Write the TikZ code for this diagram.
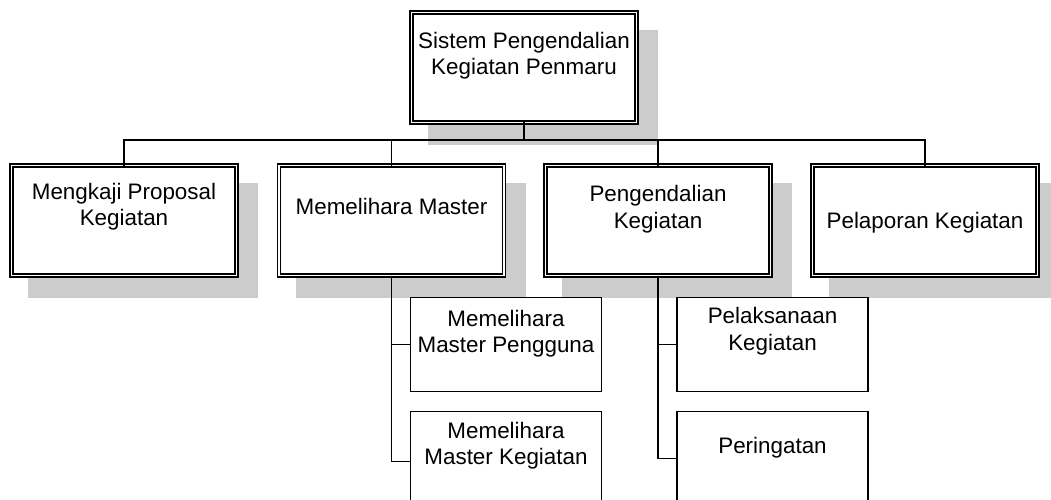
\documentclass[tikz,border=0pt]{standalone}
\usepackage{fontspec}
\setmainfont{Liberation Sans}
\usetikzlibrary{backgrounds}
\definecolor{shadowgray}{RGB}{204,204,204}

\begin{document}
\begin{tikzpicture}[x=1pt,y=-1pt,
  mainbox/.style={draw, line width=1.5pt, double, double distance=1.5pt,
    fill=white, minimum width=225pt, minimum height=110pt, inner sep=0pt, outer sep=0pt},
  subbox/.style={draw, line width=1.7pt, fill=white,
    minimum width=191pt, minimum height=94pt, inner sep=0pt, outer sep=0pt},
  lbl/.style={align=center, inner sep=0pt, anchor=base,
    font=\fontsize{22.4}{26.3}\selectfont},
  link/.style={line width=1.8pt},
  shade/.style={fill=shadowgray}
]
\useasboundingbox (0,0) rectangle (1051,500);
\clip (0,0) rectangle (1051,500);

% top level
\node[mainbox] (top) at (524,67.5) {};
% second level
\node[mainbox] (kaji) at (124,220.5) {};
\node[mainbox] (master) at (391.5,220.5) {};
\node[mainbox] (kendali) at (658,220.5) {};
\node[mainbox] (lapor) at (925,220.5) {};
% third level
\node[subbox] (pengguna) at (506,344.5) {};
\node[subbox] (mkegiatan) at (506,458.5) {};
\node[subbox] (laksana) at (772.5,344.5) {};
\node[subbox] (ingat) at (772.5,458.5) {};

% drop shadows behind the framed boxes
\begin{scope}[on background layer]
  \foreach \b in {top,kaji,master,kendali,lapor}
    \fill[shade] ([shift={(16.5,17.5)}]\b.north west) rectangle ([shift={(21.5,22.5)}]\b.south east);
\end{scope}

% labels (anchor on the baseline of the last line)
\node[lbl] (t-top) at (524,74.8) {Sistem Pengendalian\\Kegiatan Penmaru};
\node[lbl] (t-kaji) at (124,225.4) {Mengkaji Proposal\\Kegiatan};
\node[lbl] (t-master) at (391.5,214) {Memelihara Master};
\node[lbl] (t-kendali) at (658,228.2) {Pengendalian\\Kegiatan};
\node[lbl] (t-lapor) at (925,228) {Pelaporan Kegiatan};
\node[lbl] (t-pengguna) at (506,352.8) {Memelihara\\Master Pengguna};
\node[lbl] (t-mkegiatan) at (506,464.5) {Memelihara\\Master Kegiatan};
\node[lbl] (t-laksana) at (772.5,350.2) {Pelaksanaan\\Kegiatan};
\node[lbl] (t-ingat) at (772.5,453) {Peringatan};

% connectors
\coordinate (bus) at (0,140);
\draw[link] (top.south) -- (top.south |- bus);
\draw[link] (kaji.north) |- (lapor.north |- bus) -- (lapor.north);
\draw[link] (master.north) -- (master.north |- bus);
\draw[link] (kendali.north) -- (kendali.north |- bus);
\draw[link] (master.south) |- (pengguna.west);
\draw[link] (master.south) |- ([yshift=-3]mkegiatan.west);
\draw[link] (kendali.south) |- (laksana.west);
\draw[link] (kendali.south) |- (ingat.west);
\end{tikzpicture}
\end{document}
